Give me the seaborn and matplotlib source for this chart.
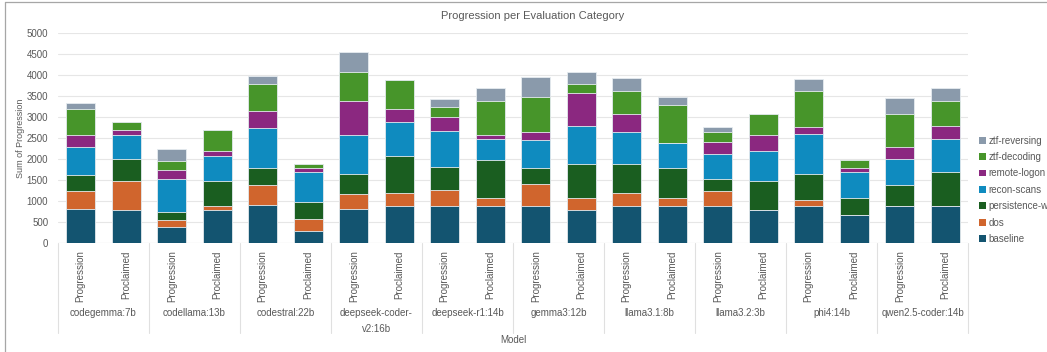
import numpy as np
import pandas as pd
import matplotlib
matplotlib.use("Agg")
import matplotlib.pyplot as plt
import seaborn as sns
from matplotlib.patches import Patch
from matplotlib.lines import Line2D
import matplotlib.transforms as mtransforms

# ---------------- data ----------------
models = ["codegemma:7b", "codellama:13b", "codestral:22b", "deepseek-coder-\nv2:16b",
          "deepseek-r1:14b", "gemma3:12b", "llama3.1:8b", "llama3.2:3b", "phi4:14b",
          "qwen2.5-coder:14b"]
kinds = ["Progression", "Proclaimed"]

# segment values, 20 bars: (model0 Progression, model0 Proclaimed, model1 Progression, ...)
baseline    = [820, 790, 390, 790, 910, 290, 820, 890, 900, 880, 900, 790, 900, 880, 900, 790, 900, 680, 900, 890]
dos         = [430, 700, 160, 100, 480, 300, 360, 300, 370, 210, 520, 300, 300, 210, 350,   0, 130,   0,   0,   0]
persistence = [380, 510, 200, 600, 400, 400, 460, 900, 540, 900, 380, 800, 690, 700, 280, 700, 610, 410, 490, 800]
recon       = [670, 590, 780, 600, 950, 700, 950, 810, 870, 500, 670, 910, 760, 590, 600, 700, 960, 610, 610, 800]
remote      = [275, 110, 210, 100, 410, 100, 790, 290, 330,  90, 170, 790, 440,   0, 280, 390, 160,  90, 290, 300]
decoding    = [625, 190, 220, 500, 640, 100, 690, 700, 230, 810, 850, 210, 540, 910, 230, 500, 870, 200, 790, 600]
reversing   = [140,   0, 290,   0, 200,   0, 480,   0, 200, 300, 480, 290, 300, 200, 130,   0, 290,   0, 370, 300]

series_names = ["baseline", "dos", "persistence-w", "recon-scans", "remote-logon", "ztf-decoding", "ztf-reversing"]
series_vals = [baseline, dos, persistence, recon, remote, decoding, reversing]
series_colors = ["#135470", "#d0652d", "#1a5e20", "#0f8bbf", "#8b2880", "#47952a", "#8a9aab"]

# ---------------- figure ----------------
sns.set_theme(style="white")
plt.rcParams["font.family"] = ["Liberation Sans", "DejaVu Sans"]
TXT = "#595959"

W, H = 1047, 352
fig = plt.figure(figsize=(W / 100, H / 100), dpi=100)
ax_l, ax_r, ax_t, ax_b = 58, 968, 33.3, 243.3
ax = fig.add_axes([ax_l / W, 1 - ax_b / H, (ax_r - ax_l) / W, (ax_b - ax_t) / H])

bar_ids = [f"{m}|{k}" for m in models for k in kinds]
cum = np.cumsum(np.array(series_vals, dtype=float), axis=0)

for i in range(len(series_names) - 1, -1, -1):
    df = pd.DataFrame({"bar": bar_ids, "total": cum[i]})
    sns.barplot(data=df, x="bar", y="total", order=bar_ids, color=series_colors[i],
                saturation=1, width=0.64, edgecolor="#e6ecf0", linewidth=0.6, ax=ax, zorder=3)

ax.set_ylim(0, 5000)
ax.set_xlim(-0.5, len(bar_ids) - 0.5)
ax.set_yticks(np.arange(0, 5001, 500))
ax.set_yticklabels([str(v) for v in range(0, 5001, 500)], fontsize=7, color=TXT)
ax.yaxis.grid(True, color="#e6e6e6", linewidth=0.8, zorder=0)
ax.set_axisbelow(True)
for s in ax.spines.values():
    s.set_visible(False)
ax.tick_params(axis="both", length=0)
ax.tick_params(axis="y", pad=7)
ax.set_xticks(range(len(bar_ids)))
ax.set_xticklabels([k for m in models for k in kinds], rotation=90, fontsize=7, color=TXT)
ax.tick_params(axis="x", pad=5)
ax.set_xlabel("")
ax.set_ylabel("Sum of Progression", fontsize=6.5, color=TXT)
ax.yaxis.set_label_coords((21 - ax_l) / (ax_r - ax_l), 0.5)
ax.yaxis.label.set_va("center")

# 0 baseline line
ax.axhline(0, color="#d9d9d9", linewidth=0.8, zorder=2)

# group separators and group labels
trans = mtransforms.blended_transform_factory(ax.transData, ax.transAxes)
sep_bottom = -(332.5 - ax_b) / (ax_b - ax_t)
for g in range(len(models) + 1):
    xg = 2 * g - 0.5
    ax.add_line(Line2D([xg, xg], [0, sep_bottom], transform=trans, color="#e0e0e0",
                       linewidth=0.8, clip_on=False))
lab_top = -(307.5 - ax_b) / (ax_b - ax_t)
for g, m in enumerate(models):
    ax.text(2 * g + 0.5, lab_top, m, transform=trans, ha="center", va="top",
            fontsize=7, color=TXT, linespacing=1.75)

fig.text(513 / W, 1 - 340 / H, "Model", ha="center", va="center", fontsize=7, color=TXT)
fig.text(533 / W, 1 - 16 / H, "Progression per Evaluation Category", ha="center", va="center",
         fontsize=8, color=TXT)

# legend
handles = [Patch(facecolor=c, edgecolor="none") for c in series_colors][::-1]
labels = series_names[::-1]
fig.legend(handles, labels, loc="upper left", bbox_to_anchor=(979 / W, 1 - 135.5 / H),
           frameon=False, fontsize=7, labelcolor=TXT, handlelength=0.7, handleheight=0.7,
           handletextpad=0.3, labelspacing=0.66, borderaxespad=0, borderpad=0)

# chart border (top and left)
fig.add_artist(Line2D([5 / W, 1], [1 - 1.7 / H, 1 - 1.7 / H], transform=fig.transFigure,
                      color="#a6a6a6", linewidth=0.9))
fig.add_artist(Line2D([5 / W, 5 / W], [0, 1 - 1.7 / H], transform=fig.transFigure,
                      color="#a6a6a6", linewidth=0.9))

fig.savefig("out.png", dpi=100)
